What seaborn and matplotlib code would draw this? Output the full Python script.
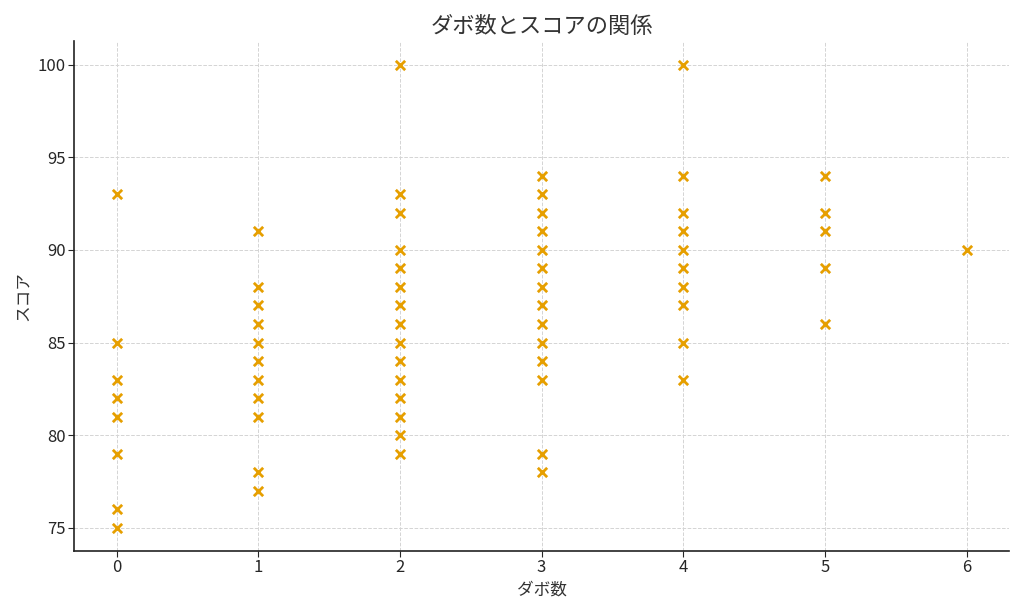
import pandas as pd
import seaborn as sns
import matplotlib.pyplot as plt

# ダボ数ごとのスコア
score_0 = [93, 85, 83, 82, 81, 79, 76, 75]
score_1 = [91, 88, 87, 86, 85, 84, 83, 82, 81, 78, 77]
score_2 = [100, 93, 92, 90, 89, 88, 87, 86, 85, 84, 83, 82, 81, 80, 79]
score_3 = [94, 93, 92, 91, 90, 89, 88, 87, 86, 85, 84, 83, 79, 78]
score_4 = [100, 94, 92, 91, 90, 89, 88, 87, 85, 83]
score_5 = [94, 92, 91, 89, 86]
score_6 = [90]

scores = [score_0, score_1, score_2, score_3, score_4, score_5, score_6]
rows = []
for dabo, vals in enumerate(scores):
    for v in vals:
        rows.append({'ダボ数': dabo, 'スコア': v})
df = pd.DataFrame(rows)

sns.set_style('white')
plt.rcParams['font.family'] = ['Noto Sans CJK JP', 'DejaVu Sans']

fig, ax = plt.subplots(figsize=(10.24, 6.14), dpi=100)
sns.scatterplot(data=df, x='ダボ数', y='スコア', marker='x', color='#E69F00',
                s=45, linewidth=2, ax=ax)

ax.set_title('ダボ数とスコアの関係', fontsize=16, color='#333333')
ax.set_xlabel('ダボ数', fontsize=12, color='#333333')
ax.set_ylabel('スコア', fontsize=12, color='#333333')
ax.grid(True, linestyle='--', color='#d4d4d4', linewidth=0.7)
ax.tick_params(axis='both', labelsize=12, left=True, bottom=True, length=4, pad=2)
for side in ['left', 'bottom']:
    ax.spines[side].set_linewidth(1.2)
    ax.spines[side].set_color('#222222')
sns.despine(ax=ax)

plt.tight_layout()
plt.savefig('out.png')
